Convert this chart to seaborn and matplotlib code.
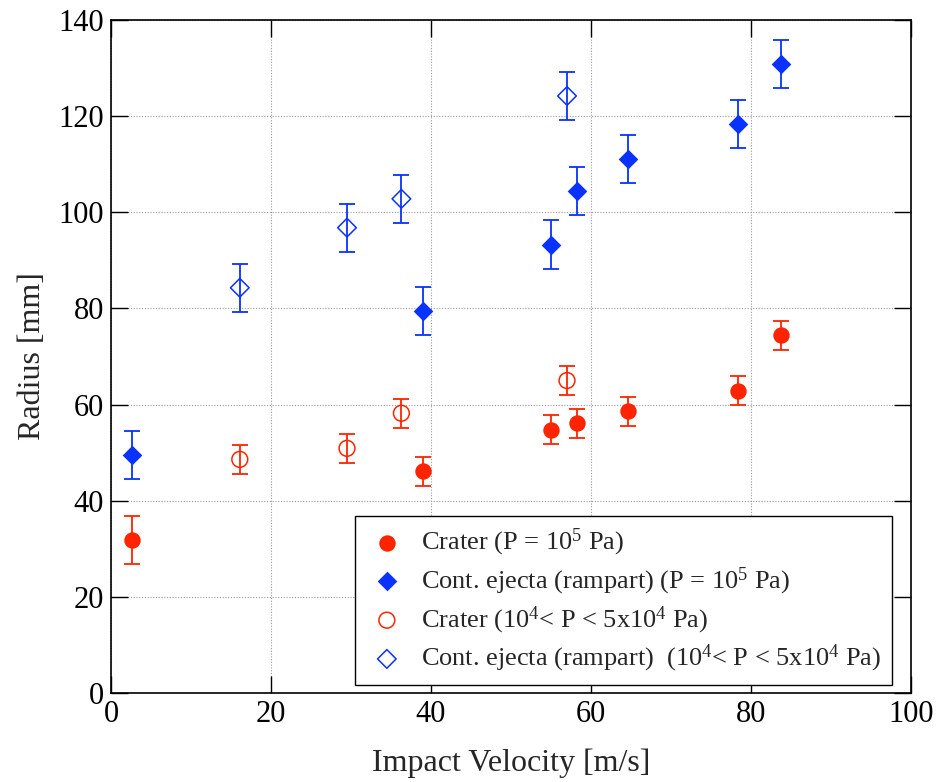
import numpy as np
import pandas as pd
import seaborn as sns
import matplotlib.pyplot as plt

# crater radius at P = 1e5 Pa
vel_hi = [2.6, 39.0, 55.0, 58.2, 64.6, 78.4, 83.8]
crater_hi = [31.8, 46.1, 54.8, 56.1, 58.6, 62.9, 74.4]
crater_hi_err = [5, 3, 3, 3, 3, 3, 3]
ejecta_hi = [49.6, 79.5, 93.3, 104.5, 111.1, 118.4, 130.8]
ejecta_hi_err = [5, 5, 5, 5, 5, 5, 5]

# 1e4 < P < 5e4 Pa
vel_lo = [16.1, 29.5, 36.3, 57.0]
crater_lo = [48.6, 50.9, 58.2, 65.0]
crater_lo_err = [3, 3, 3, 3]
ejecta_lo = [84.3, 96.8, 102.8, 124.2]
ejecta_lo_err = [5, 5, 5, 5]

red = "#FF2400"
blue = "#0A32FF"

sns.set_style("ticks")
plt.rcParams["font.family"] = ["Liberation Serif", "DejaVu Serif"]
plt.rcParams["mathtext.fontset"] = "custom"
plt.rcParams["mathtext.rm"] = "Liberation Serif"
plt.rcParams["mathtext.it"] = "Liberation Serif:italic"

fig = plt.figure(figsize=(9.39, 7.82), dpi=100)
ax = fig.add_axes([0.1182, 0.1138, 0.852, 0.8606])

series = [
    ("Crater (P = 10$^5$ Pa)", vel_hi, crater_hi, crater_hi_err, "o", red, True, 140),
    ("Cont. ejecta (rampart) (P = 10$^5$ Pa)", vel_hi, ejecta_hi, ejecta_hi_err, "D", blue, True, 100),
    ("Crater (10$^4$< P < 5x10$^4$ Pa)", vel_lo, crater_lo, crater_lo_err, "o", red, False, 130),
    ("Cont. ejecta (rampart)  (10$^4$< P < 5x10$^4$ Pa)", vel_lo, ejecta_lo, ejecta_lo_err, "D", blue, False, 90),
]

for label, x, y, err, mk, col, filled, size in series:
    df = pd.DataFrame({"v": x, "r": y})
    ax.errorbar(x, y, yerr=err, fmt="none", ecolor=col, elinewidth=1.3,
                capsize=6, capthick=1.3, zorder=2)
    if filled:
        sns.scatterplot(data=df, x="v", y="r", marker=mk, s=size, color=col,
                        edgecolor=col, linewidth=0, label=label, ax=ax, zorder=3)
    else:
        sns.scatterplot(data=df, x="v", y="r", marker=mk, s=size, facecolor="none",
                        edgecolor=col, linewidth=1.1, label=label, ax=ax, zorder=3)

ax.set_xlim(0, 100)
ax.set_ylim(0, 140)
ax.set_xticks(np.arange(0, 101, 20))
ax.set_yticks(np.arange(0, 141, 20))
ax.grid(True, color="#9a9a9a", linestyle=(0, (1, 1.5)), linewidth=0.8)
ax.tick_params(direction="in", length=12, width=1, top=True, right=True,
               labelsize=22, pad=5, colors="black")
for sp in ax.spines.values():
    sp.set_linewidth(1.2)
    sp.set_color("black")

ax.set_xlabel("Impact Velocity [m/s]", fontsize=23, labelpad=14)
ax.set_ylabel("Radius [mm]", fontsize=23, labelpad=8)

leg = ax.legend(loc="lower right", bbox_to_anchor=(0.976, 0.012), fontsize=19,
                frameon=True, fancybox=False, framealpha=1, edgecolor="black",
                borderpad=0.4, labelspacing=0.28, handletextpad=0.5,
                handlelength=1.6, borderaxespad=0)
leg.get_frame().set_linewidth(1.0)

fig.savefig("out.png", dpi=100)
